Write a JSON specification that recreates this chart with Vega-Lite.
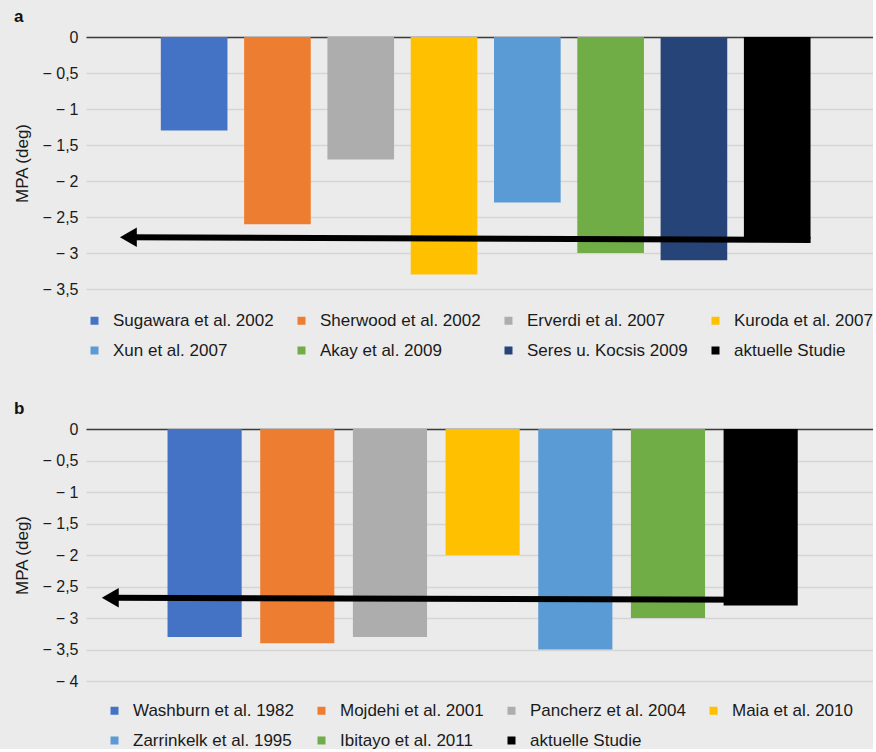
{
  "$schema": "https://vega.github.io/schema/vega-lite/v6.json",
  "background": "#ebebeb",
  "padding": {"left": 13, "top": 8, "right": 0, "bottom": 0},
  "config": {
    "view": {"stroke": null},
    "font": "Liberation Sans",
    "axis": {"labelColor": "#1a1a1a", "titleColor": "#1a1a1a", "labelOverlap": false},
    "axisY": {"labelOverlap": false},
    "legend": {
      "symbolType": "square",
      "symbolSize": 64,
      "symbolStrokeWidth": 0,
      "labelFontSize": 17,
      "labelColor": "#1a1a1a",
      "labelOffset": 10,
      "columnPadding": 19,
      "rowPadding": 12,
      "labelLimit": 400,
      "layout": {"bottom": {"anchor": "middle"}}
    }
  },
  "datasets": {
    "a": [
      {"study": "Sugawara et al. 2002", "mpa": -1.3},
      {"study": "Sherwood et al. 2002", "mpa": -2.6},
      {"study": "Erverdi et al. 2007", "mpa": -1.7},
      {"study": "Kuroda et al. 2007", "mpa": -3.3},
      {"study": "Xun et al. 2007", "mpa": -2.3},
      {"study": "Akay et al. 2009", "mpa": -3.0},
      {"study": "Seres u. Kocsis 2009", "mpa": -3.1},
      {"study": "aktuelle Studie", "mpa": -2.8}
    ],
    "b": [
      {"study": "Washburn et al. 1982", "mpa": -3.3},
      {"study": "Mojdehi et al. 2001", "mpa": -3.4},
      {"study": "Pancherz et al. 2004", "mpa": -3.3},
      {"study": "Maia et al. 2010", "mpa": -2.0},
      {"study": "Zarrinkelk et al. 1995", "mpa": -3.5},
      {"study": "Ibitayo et al. 2011", "mpa": -3.0},
      {"study": "aktuelle Studie", "mpa": -2.8}
    ],
    "arrowA": [{"x1": -0.755, "x2": 7.435, "y1": -2.78, "y2": -2.82}],
    "arrowB": [{"x1": -0.99, "x2": 6.0, "y1": -2.68, "y2": -2.71}]
  },
  "spacing": 41,
  "resolve": {"scale": {"color": "independent"}, "legend": {"color": "independent"}},
  "vconcat": [
    {
      "title": {"text": "a", "anchor": "start", "frame": "bounds", "fontSize": 17, "fontWeight": "bold", "color": "#111111", "offset": 3},
      "width": 787,
      "height": 252,
      "resolve": {"scale": {"x": "independent"}},
      "layer": [
        {
          "data": {"name": "a"},
          "mark": {"type": "bar"},
          "encoding": {
            "x": {
              "field": "study", "type": "nominal", "sort": null,
              "scale": {"paddingInner": 0.2, "paddingOuter": 0.824, "align": 0.545},
              "axis": {"orient": "top", "labels": false, "ticks": false, "title": null, "grid": false, "domain": true, "domainColor": "#3c3c3c", "domainWidth": 1.5}
            },
            "y": {
              "field": "mpa", "type": "quantitative",
              "scale": {"domain": [-3.5, 0], "nice": false},
              "axis": {
                "title": "MPA (deg)", "titleFontSize": 17, "titleFontWeight": "normal", "titlePadding": 10,
                "labelFontSize": 16, "labelPadding": 8, "labelOverlap": false, "ticks": false, "domain": false,
                "grid": true, "gridColor": "#d5d5d5", "gridWidth": 1.3,
                "values": [0, -0.5, -1, -1.5, -2, -2.5, -3, -3.5],
                "labelExpr": "datum.value == 0 ? '0' : '\u2212 ' + replace(format(abs(datum.value), '~g'), '.', ',')"
              }
            },
            "color": {
              "field": "study", "type": "nominal", "sort": null,
              "scale": {
                "domain": ["Sugawara et al. 2002", "Sherwood et al. 2002", "Erverdi et al. 2007", "Kuroda et al. 2007", "Xun et al. 2007", "Akay et al. 2009", "Seres u. Kocsis 2009", "aktuelle Studie"],
                "range": ["#4472C4", "#ED7D31", "#ADADAD", "#FFC000", "#5B9BD5", "#70AD47", "#264478", "#000000"]
              },
              "legend": {"orient": "bottom", "direction": "horizontal", "columns": 4, "title": null, "offset": 23}
            }
          }
        },
        {
          "data": {"name": "arrowA"},
          "mark": {"type": "rule", "strokeWidth": 6, "color": "#000000"},
          "encoding": {
            "x": {"field": "x1", "type": "quantitative", "scale": {"domain": [-1.264, 8.184], "nice": false, "zero": false}, "axis": null},
            "x2": {"field": "x2"},
            "y": {
              "field": "y1", "type": "quantitative",
              "axis": {
                "title": "MPA (deg)", "titleFontSize": 17, "titleFontWeight": "normal", "titlePadding": 10,
                "labelFontSize": 16, "labelPadding": 8, "labelOverlap": false, "ticks": false, "domain": false,
                "grid": true, "gridColor": "#d5d5d5", "gridWidth": 1.3,
                "values": [0, -0.5, -1, -1.5, -2, -2.5, -3, -3.5],
                "labelExpr": "datum.value == 0 ? '0' : '\u2212 ' + replace(format(abs(datum.value), '~g'), '.', ',')"
              }
            },
            "y2": {"field": "y2"}
          }
        },
        {
          "data": {"name": "arrowA"},
          "mark": {"type": "point", "shape": "triangle-left", "size": 380, "filled": true, "color": "#000000", "opacity": 1},
          "encoding": {
            "x": {"field": "x1", "type": "quantitative", "scale": {"domain": [-1.264, 8.184], "nice": false, "zero": false}, "axis": null},
            "y": {
              "field": "y1", "type": "quantitative",
              "axis": {
                "title": "MPA (deg)", "titleFontSize": 17, "titleFontWeight": "normal", "titlePadding": 10,
                "labelFontSize": 16, "labelPadding": 8, "labelOverlap": false, "ticks": false, "domain": false,
                "grid": true, "gridColor": "#d5d5d5", "gridWidth": 1.3,
                "values": [0, -0.5, -1, -1.5, -2, -2.5, -3, -3.5],
                "labelExpr": "datum.value == 0 ? '0' : '\u2212 ' + replace(format(abs(datum.value), '~g'), '.', ',')"
              }
            }
          }
        }
      ]
    },
    {
      "title": {"text": "b", "anchor": "start", "frame": "bounds", "fontSize": 17, "fontWeight": "bold", "color": "#111111", "offset": 3},
      "width": 787,
      "height": 252,
      "resolve": {"scale": {"x": "independent"}},
      "layer": [
        {
          "data": {"name": "b"},
          "mark": {"type": "bar"},
          "encoding": {
            "x": {
              "field": "study", "type": "nominal", "sort": null,
              "scale": {"paddingInner": 0.2, "paddingOuter": 0.846, "align": 0.52},
              "axis": {"orient": "top", "labels": false, "ticks": false, "title": null, "grid": false, "domain": true, "domainColor": "#3c3c3c", "domainWidth": 1.5}
            },
            "y": {
              "field": "mpa", "type": "quantitative",
              "scale": {"domain": [-4, 0], "nice": false},
              "axis": {
                "title": "MPA (deg)", "titleFontSize": 17, "titleFontWeight": "normal", "titlePadding": 10,
                "labelFontSize": 16, "labelPadding": 8, "labelOverlap": false, "ticks": false, "domain": false,
                "grid": true, "gridColor": "#d5d5d5", "gridWidth": 1.3,
                "values": [0, -0.5, -1, -1.5, -2, -2.5, -3, -3.5, -4],
                "labelExpr": "datum.value == 0 ? '0' : '\u2212 ' + replace(format(abs(datum.value), '~g'), '.', ',')"
              }
            },
            "color": {
              "field": "study", "type": "nominal", "sort": null,
              "scale": {
                "domain": ["Washburn et al. 1982", "Mojdehi et al. 2001", "Pancherz et al. 2004", "Maia et al. 2010", "Zarrinkelk et al. 1995", "Ibitayo et al. 2011", "aktuelle Studie"],
                "range": ["#4472C4", "#ED7D31", "#ADADAD", "#FFC000", "#5B9BD5", "#70AD47", "#000000"]
              },
              "legend": {"orient": "bottom", "direction": "horizontal", "columns": 4, "title": null, "offset": 21}
            }
          }
        },
        {
          "data": {"name": "arrowB"},
          "mark": {"type": "rule", "strokeWidth": 6, "color": "#000000"},
          "encoding": {
            "x": {"field": "x1", "type": "quantitative", "scale": {"domain": [-1.252, 7.241], "nice": false, "zero": false}, "axis": null},
            "x2": {"field": "x2"},
            "y": {
              "field": "y1", "type": "quantitative",
              "axis": {
                "title": "MPA (deg)", "titleFontSize": 17, "titleFontWeight": "normal", "titlePadding": 10,
                "labelFontSize": 16, "labelPadding": 8, "labelOverlap": false, "ticks": false, "domain": false,
                "grid": true, "gridColor": "#d5d5d5", "gridWidth": 1.3,
                "values": [0, -0.5, -1, -1.5, -2, -2.5, -3, -3.5, -4],
                "labelExpr": "datum.value == 0 ? '0' : '\u2212 ' + replace(format(abs(datum.value), '~g'), '.', ',')"
              }
            },
            "y2": {"field": "y2"}
          }
        },
        {
          "data": {"name": "arrowB"},
          "mark": {"type": "point", "shape": "triangle-left", "size": 380, "filled": true, "color": "#000000", "opacity": 1},
          "encoding": {
            "x": {"field": "x1", "type": "quantitative", "scale": {"domain": [-1.252, 7.241], "nice": false, "zero": false}, "axis": null},
            "y": {
              "field": "y1", "type": "quantitative",
              "axis": {
                "title": "MPA (deg)", "titleFontSize": 17, "titleFontWeight": "normal", "titlePadding": 10,
                "labelFontSize": 16, "labelPadding": 8, "labelOverlap": false, "ticks": false, "domain": false,
                "grid": true, "gridColor": "#d5d5d5", "gridWidth": 1.3,
                "values": [0, -0.5, -1, -1.5, -2, -2.5, -3, -3.5, -4],
                "labelExpr": "datum.value == 0 ? '0' : '\u2212 ' + replace(format(abs(datum.value), '~g'), '.', ',')"
              }
            }
          }
        }
      ]
    }
  ]
}
